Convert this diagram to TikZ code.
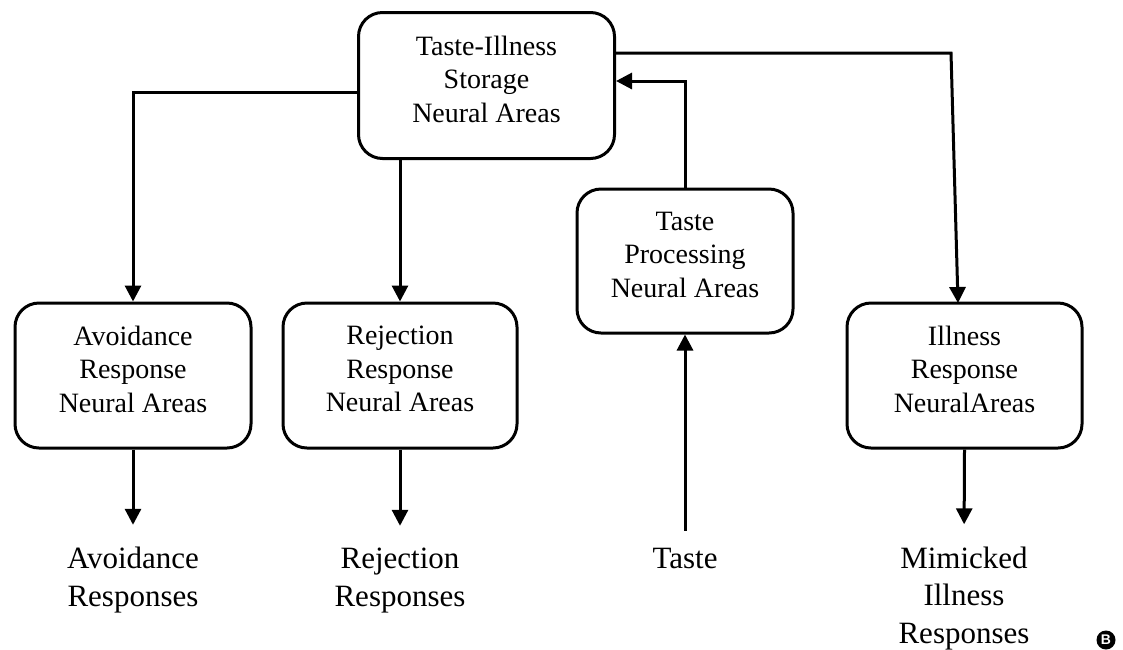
\documentclass[tikz,border=0pt]{standalone}
\usepackage{fontspec}
\setmainfont{Liberation Serif}
\newfontfamily\bfont{Liberation Sans}
\usetikzlibrary{arrows.meta}
\begin{document}
\begin{tikzpicture}[x=1pt,y=-1pt,
  boxst/.style={draw, line width=3pt, rounded corners=24pt, align=center,
    inner sep=0pt, font=\fontsize{28}{33.5}\selectfont, text depth=13pt},
  lbl/.style={align=center, inner sep=0pt, anchor=base,
    font=\fontsize{31}{37.5}\selectfont},
  conn/.style={line width=3pt},
  arr/.style={conn, -{Triangle[length=16pt,width=16pt]}}]
\useasboundingbox[fill=white] (0,0) rectangle (1123,649);

\node[boxst, minimum width=256pt, minimum height=146pt] (top) at (486.5,85.5)
  {Taste-Illness\\Storage\\Neural Areas};
\node[boxst, minimum width=236pt, minimum height=145pt] (avoid) at (133,375.5)
  {Avoidance\\Response\\Neural Areas};
\node[boxst, minimum width=234pt, minimum height=145pt] (rej) at (400,375.5)
  {Rejection\\Response\\Neural Areas};
\node[boxst, minimum width=216pt, minimum height=144pt] (proc) at (685,261)
  {Taste\\Processing\\Neural Areas};
\node[boxst, minimum width=235pt, minimum height=145pt] (ill) at (964.5,375.5)
  {Illness\\Response\\NeuralAreas};

\node[lbl] (avoidR) at (133,606) {Avoidance\\Responses};
\node[lbl] (rejR) at (400,606) {Rejection\\Responses};
\node[lbl] (taste) at (685,568) {Taste};
\node[lbl] (mimR) at (964,643) {Mimicked\\Illness\\Responses};

\node[circle, fill=black, inner sep=0pt, minimum size=19pt, text=white,
  font=\bfont\bfseries\fontsize{14}{14}\selectfont] (B) at (1106,640) {B};

\coordinate (yl) at (0,92);
\coordinate (yt) at (0,81);
\coordinate (bend) at (951,53);
\coordinate (tip) at (958,303);

\draw[arr] (yl -| top.west) -| (avoid.north);
\draw[arr] (rej.north |- top.south) -- (rej.north);
\draw[arr] (proc.north) |- (yt -| top.east);
\draw[arr] (bend -| top.east) -- (bend) -- (tip);

\draw[arr, shorten >=22pt] (avoid.south) -- (avoidR.north);
\draw[arr, shorten >=22pt] (rej.south) -- (rejR.north);
\draw[arr, shorten >=22pt] (ill.south) -- (mimR.north);
\draw[arr, shorten <=17pt] (taste.north) -- (proc.south);
\end{tikzpicture}
\end{document}
